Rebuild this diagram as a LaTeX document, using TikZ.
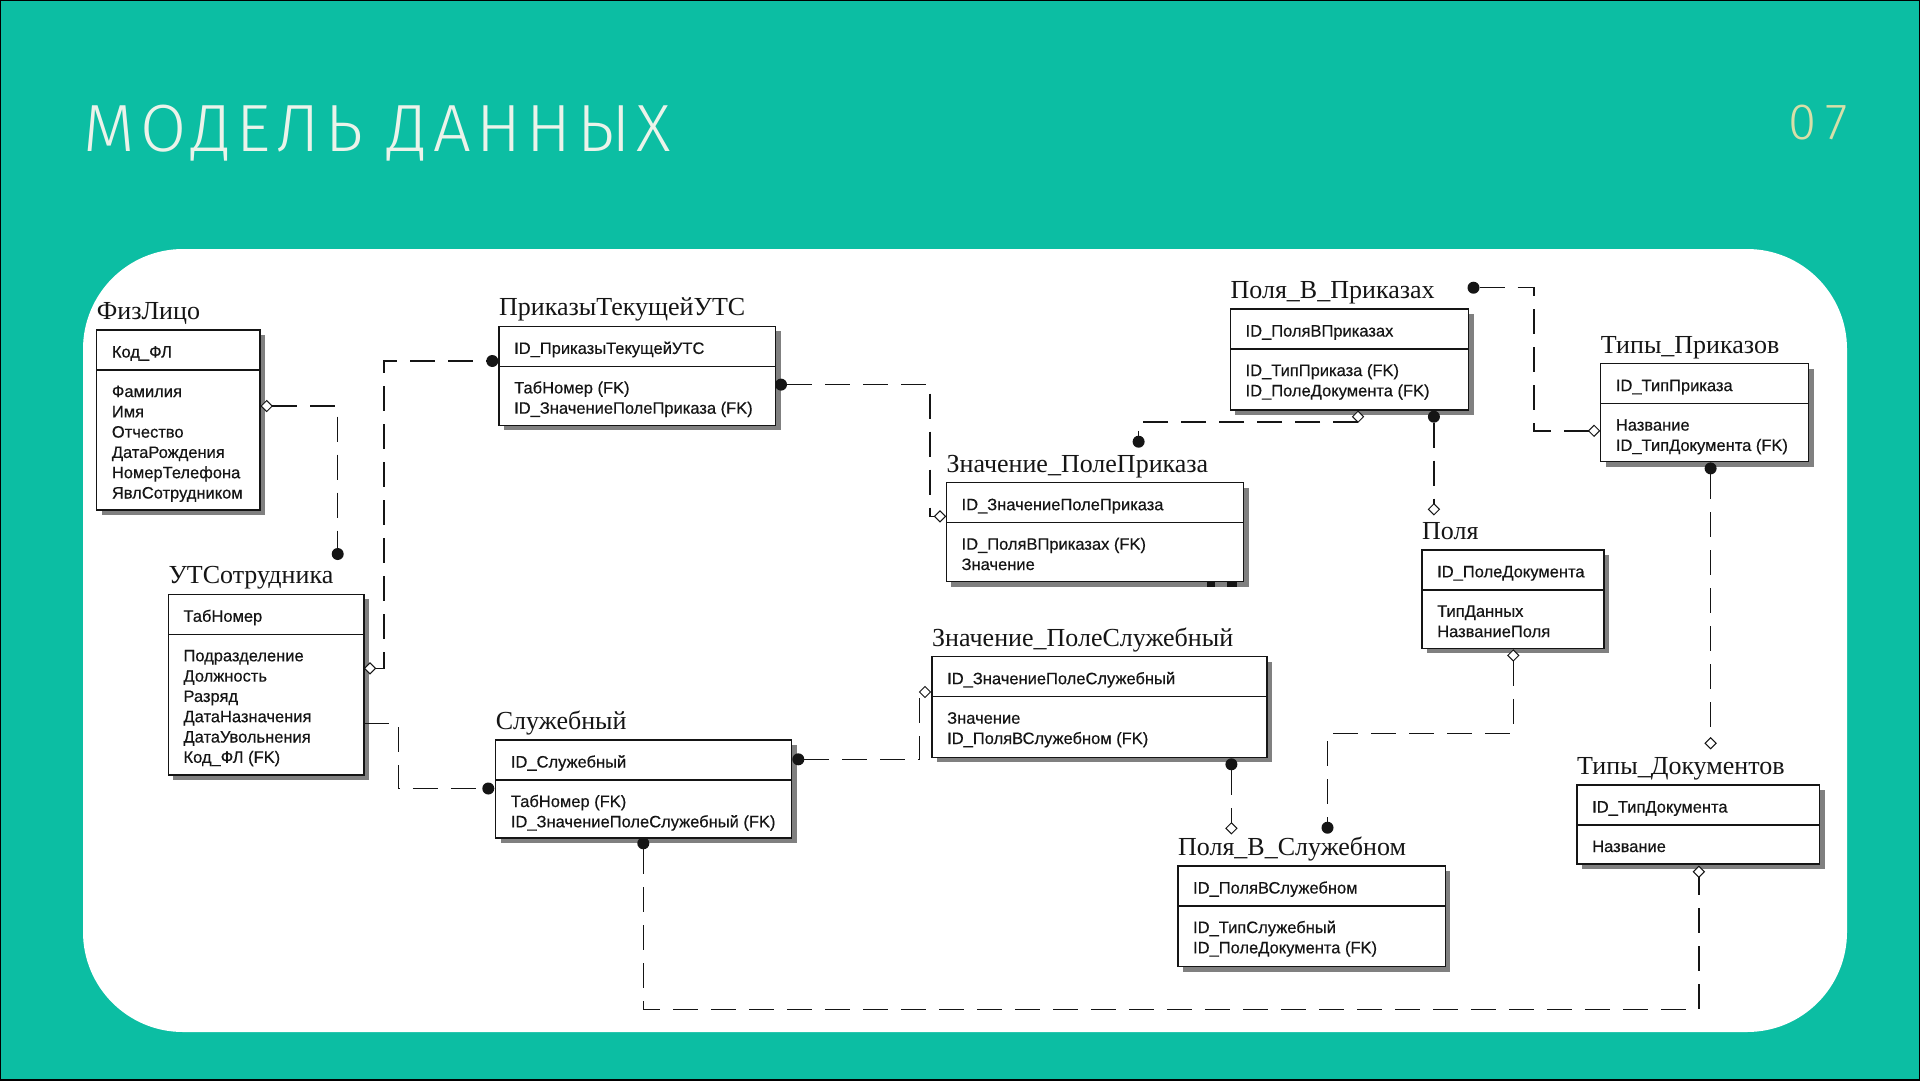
\documentclass[tikz,border=0pt]{standalone}
\usepackage{fontspec}
\setmainfont{Liberation Sans}
\newfontfamily\attrfont[FakeBold=0.4]{Liberation Sans}
\newfontfamily\entserif{Liberation Serif}
\newfontfamily\headfont[LetterSpace=8.4]{Fira Sans Light}
\newfontfamily\pagefont[LetterSpace=18]{Fira Sans Light}
\usetikzlibrary{shapes.geometric}

\definecolor{slidebg}{HTML}{0CBEA3}
\definecolor{headc}{HTML}{EBF3EA}
\definecolor{pagec}{HTML}{D7DFA8}
\definecolor{inkc}{HTML}{151515}

\tikzset{
  entbox/.style={draw=inkc, fill=white, line width=1.5pt, inner sep=0pt, outer sep=0pt},
  entline/.style={draw=inkc, line width=1.5pt},
  shadowfill/.style={fill=black!50},
  enttitle/.style={inner sep=0pt, text=inkc, font=\entserif\fontsize{26}{30}\selectfont},
  attr/.style={inner sep=0pt, text=inkc, font=\attrfont\fontsize{16.5}{19}\selectfont},
  rel/.style={draw=inkc, line width=1.5pt, dash pattern=on 25pt off 13pt},
  reldot/.style={circle, fill=inkc, minimum size=12pt, inner sep=0pt, outer sep=0pt},
  reldia/.style={diamond, draw=inkc, fill=white, line width=1pt, minimum width=11pt, minimum height=11pt, inner sep=0pt, outer sep=0pt},
}

% #1 name, #2 left, #3 top, #4 width, #5 height, #6 entity title, #7 key, #8 attributes
\newcommand\entity[8]{%
  \fill[shadowfill] ({#2+5},{#3+5}) rectangle ++(#4,#5);
  \node[entbox, minimum width=#4pt, minimum height=#5pt, anchor=north west] (#1) at (#2,#3) {};
  \draw[entline] (#1.north west) ++(0,40) -- ++(#4,0);
  \node[enttitle, anchor=base west] (#1-t) at ({#2},{#3-10.5}) {#6};
  \node[attr, anchor=base west] (#1-k) at ({#2+15},{#3+27.5}) {#7};
  \foreach \a [count=\i] in {#8} {
    \node[attr, anchor=base west] (#1-a\i) at ({#2+15},{#3+67+(\i-1)*20.3}) {\a};
  }
}

\begin{document}
\begin{tikzpicture}[x=1pt,y=-1pt]
\useasboundingbox (0,0) rectangle (1920,1080);
\fill[slidebg] (0,0) rectangle (1920,1080);
\draw[black, line width=2pt] (0,0) rectangle (1920,1080);
\fill[white, rounded corners=100pt] (83,249) rectangle (1847,1032);

% heading and page number
\node[anchor=base west, inner sep=0pt, text=headc, font=\headfont\fontsize{66.8}{70}\selectfont] (head) at (83.5,151) {МОДЕЛЬ ДАННЫХ};
\node[anchor=base east, inner sep=0pt, text=pagec, font=\pagefont\fontsize{51}{54}\selectfont] (pageno) at (1847.5,139.3) {07};

% entities
\entity{fl}{96.7}{330}{163.3}{180}{ФизЛицо}{Код\_ФЛ}{Фамилия,Имя,Отчество,ДатаРождения,НомерТелефона,ЯвлСотрудником}
\entity{uts}{168.3}{594.3}{195.7}{180.7}{УТСотрудника}{ТабНомер}{Подразделение,Должность,Разряд,ДатаНазначения,ДатаУвольнения,Код\_ФЛ (FK)}
\entity{pr}{499}{326.4}{276.7}{99}{ПриказыТекущейУТС}{ID\_ПриказыТекущейУТС}{ТабНомер (FK),ID\_ЗначениеПолеПриказа (FK)}
\entity{sl}{495.7}{740}{296}{97.9}{Служебный}{ID\_Служебный}{ТабНомер (FK),ID\_ЗначениеПолеСлужебный (FK)}
\entity{zpp}{946.4}{482.7}{297.2}{99}{Значение\_ПолеПриказа}{ID\_ЗначениеПолеПриказа}{ID\_ПоляВПриказах (FK),Значение}
\entity{pvp}{1230.4}{309}{238.1}{101}{Поля\_В\_Приказах}{ID\_ПоляВПриказах}{ID\_ТипПриказа (FK),ID\_ПолеДокумента (FK)}
\entity{tp}{1600.7}{363.6}{208}{98.1}{Типы\_Приказов}{ID\_ТипПриказа}{Название,ID\_ТипДокумента (FK)}
\entity{pol}{1422}{549.8}{181.8}{98.5}{Поля}{ID\_ПолеДокумента}{ТипДанных,НазваниеПоля}
\entity{td}{1577}{785}{242.7}{79.2}{Типы\_Документов}{ID\_ТипДокумента}{Название}
\entity{zps}{932}{656.7}{335}{100.6}{Значение\_ПолеСлужебный}{ID\_ЗначениеПолеСлужебный}{Значение,ID\_ПоляВСлужебном (FK)}
\entity{pvs}{1177.9}{866}{267.5}{100.7}{Поля\_В\_Служебном}{ID\_ПоляВСлужебном}{ID\_ТипСлужебный,ID\_ПолеДокумента (FK)}

% leftover marks under the field-value table
\fill[inkc] (1207.3,582.3) rectangle (1215,587.3);
\fill[inkc] (1226.7,582.3) rectangle (1237.3,587.3);

% relationship ends
\node[reldia] (c1a) at (266.7,406) {};
\node[reldot] (c1b) at (337.7,554) {};
\node[reldia] (c2a) at (370,668.3) {};
\node[reldot] (c2b) at (492.3,361) {};
\path (uts.north east) ++(0,129) coordinate (c3a);
\node[reldot] (c3b) at (488.3,788.5) {};
\node[reldot] (c4a) at (781,384.6) {};
\node[reldia] (c4b) at (940,516.4) {};
\node[reldia] (c5a) at (1358,416.7) {};
\node[reldot] (c5b) at (1138.6,441.7) {};
\node[reldot] (c6a) at (1433.9,416.7) {};
\node[reldia] (c6b) at (1433.9,509.3) {};
\node[reldot] (c7a) at (1473.5,287.7) {};
\node[reldia] (c7b) at (1594,430.8) {};
\node[reldot] (c8a) at (1710.6,468.4) {};
\node[reldia] (c8b) at (1710.6,743.2) {};
\node[reldia] (c9a) at (1513.3,655.4) {};
\node[reldot] (c9b) at (1327.5,827.7) {};
\node[reldot] (c10a) at (798.3,759.3) {};
\node[reldia] (c10b) at (925,692) {};
\node[reldot] (c11a) at (1231.4,764.3) {};
\node[reldia] (c11b) at (1231.4,828.3) {};
\node[reldot] (c12a) at (643.3,843.3) {};
\node[reldia] (c12b) at (1698.9,871.7) {};

% relationships
\draw[rel] (c1a) -| (c1b);
\draw[rel] (c2a) -- ++(14,0) |- (c2b);
\draw[rel] (c3a) -- ++(34.3,0) |- (c3b);
\draw[rel] (c4a) -- ++(149,0) |- (c4b);
\draw[rel] (c5a.south) -| (c5b);
\draw[rel] (c6a) -- (c6b);
\draw[rel] (c7a) -- ++(60.5,0) |- (c7b);
\draw[rel] (c8a) -- (c8b);
\draw[rel] (c9a) -- ++(0,77.9) -| (c9b);
\draw[rel] (c10a) -| (c10b.west);
\draw[rel] (c11a) -- (c11b);
\draw[rel] (c12a) -- ++(0,166) -| (c12b);
\end{tikzpicture}
\end{document}
